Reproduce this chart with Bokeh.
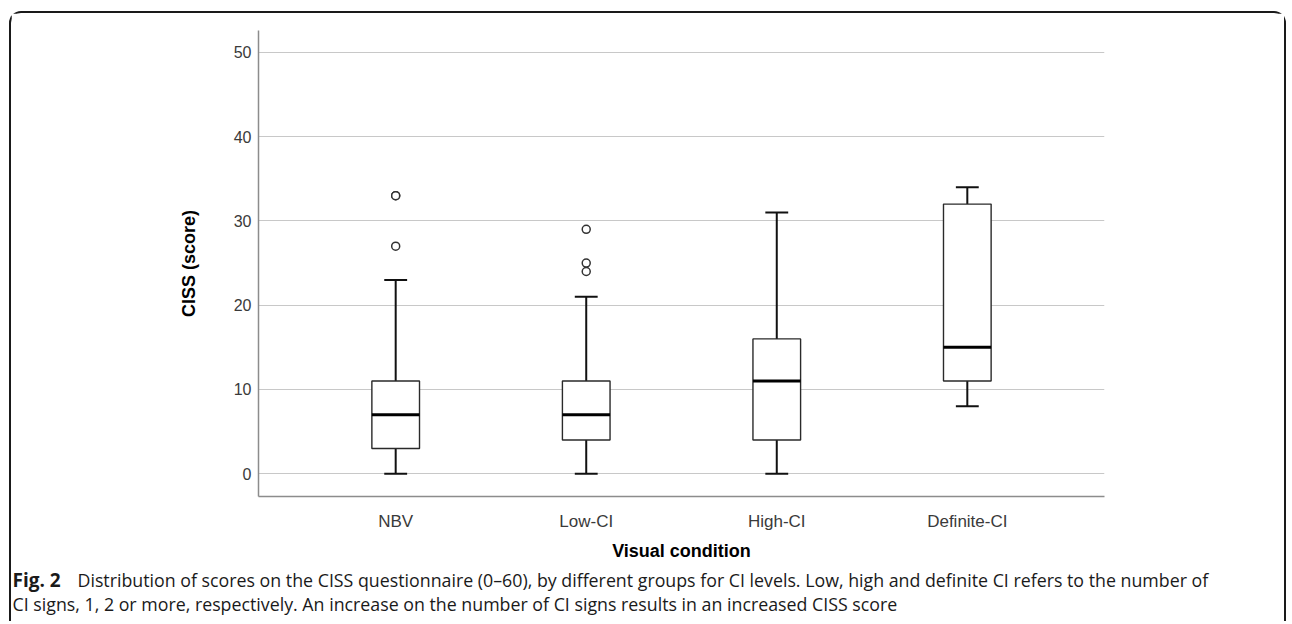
from bokeh.plotting import figure
from bokeh.models import FactorRange, Range1d, FixedTicker, ColumnDataSource, Label
from bokeh.transform import dodge
from bokeh.embed import file_html
from bokeh.resources import INLINE

categories = ["NBV", "Low-CI", "High-CI", "Definite-CI"]
whisker_low = [0, 0, 0, 8]
q1 = [3, 4, 4, 11]
median = [7, 7, 11, 15]
q3 = [11, 11, 16, 32]
whisker_high = [23, 21, 31, 34]
outlier_groups = ["NBV", "NBV", "NBV", "Low-CI", "Low-CI", "Low-CI"]
outlier_values = [27, 33, 33, 24, 25, 29]
y_ticks = [0, 10, 20, 30, 40, 50]

caption_bold = "Fig. 2"
caption_line1 = ("Distribution of scores on the CISS questionnaire (0\u201360), by different groups "
                 "for CI levels. Low, high and definite CI refers to the number of")
caption_line2 = ("CI signs, 1, 2 or more, respectively. An increase on the number of CI signs "
                 "results in an increased CISS score")

W = 1277
H_MAIN, H_CAP = 555, 55
BORDER = "2px solid #1a1a1a"

p = figure(width=W, height=H_MAIN, title=None,
           x_range=FactorRange(factors=categories, range_padding=0.11),
           y_range=Range1d(-2.7, 52.6),
           output_backend="svg", toolbar_location=None,
           min_border_left=247, min_border_right=184,
           min_border_top=17, min_border_bottom=72)
p.styles = {"margin-left": "9px", "margin-top": "11px",
            "border-top": BORDER, "border-left": BORDER, "border-right": BORDER,
            "border-radius": "12px 12px 0 0"}
p.outline_line_color = None
p.background_fill_color = "white"
p.border_fill_color = "white"

src = ColumnDataSource(dict(cat=categories, wl=whisker_low, q1=q1, med=median,
                            q3=q3, wh=whisker_high))
osrc = ColumnDataSource(dict(g=outlier_groups, v=outlier_values))

# whiskers
p.segment(x0="cat", x1="cat", y0="q3", y1="wh", source=src, line_width=2, line_color="#111111")
p.segment(x0="cat", x1="cat", y0="q1", y1="wl", source=src, line_width=2, line_color="#111111")
# caps
cl = dodge("cat", -0.06, range=p.x_range)
cr = dodge("cat", 0.06, range=p.x_range)
p.segment(x0=cl, x1=cr, y0="wh", y1="wh", source=src, line_width=2, line_color="#111111")
p.segment(x0=cl, x1=cr, y0="wl", y1="wl", source=src, line_width=2, line_color="#111111")
# boxes
p.vbar(x="cat", width=0.25, top="q3", bottom="q1", source=src,
       fill_color="white", line_color="#2a2a2a", line_width=1.4)
# medians
p.segment(x0=dodge("cat", -0.125, range=p.x_range), x1=dodge("cat", 0.125, range=p.x_range),
          y0="med", y1="med", source=src, line_width=3, line_color="#000000")
# outliers
p.scatter(x="g", y="v", source=osrc, marker="circle", size=8, fill_color="white",
          line_color="#333333", line_width=1.5)

# axes
for ax in (p.xaxis[0], p.yaxis[0]):
    ax.axis_line_color = "#8c8c8c"
    ax.axis_line_width = 1.5
    ax.major_tick_line_color = None
    ax.major_tick_out = 0
    ax.major_tick_in = 0
    ax.minor_tick_line_color = None
    ax.minor_tick_out = 0
    ax.major_label_text_font = "Liberation Sans"
    ax.major_label_text_color = "#3a3a3a"
    ax.axis_label_text_font = "Liberation Sans"
    ax.axis_label_text_font_style = "bold"
    ax.axis_label_text_font_size = "18px"
    ax.axis_label_text_color = "#000000"
p.yaxis.major_label_text_font_size = "16px"
p.xaxis.major_label_text_font_size = "17px"
p.yaxis.ticker = FixedTicker(ticks=y_ticks)
p.yaxis.axis_label = "CISS (score)"
p.yaxis.major_label_standoff = 7
p.yaxis.axis_label_standoff = 32
p.xaxis.axis_label = "Visual condition"
p.xaxis.major_label_standoff = 15
p.xaxis.axis_label_standoff = 7

p.xgrid.visible = False
p.ygrid.ticker = FixedTicker(ticks=y_ticks)
p.ygrid.grid_line_color = "#c8c8c8"
p.ygrid.grid_line_width = 1.2

# caption panel (separate root so its frame spans the full width)
cap = figure(width=W, height=H_CAP, title=None, x_range=Range1d(0, W), y_range=Range1d(0, H_CAP),
             output_backend="svg", toolbar_location=None, min_border=0)
cap.styles = {"margin-left": "9px", "border-left": BORDER, "border-right": BORDER}
cap.axis.visible = False
cap.grid.visible = False
cap.outline_line_color = None
cap.border_fill_color = "white"
cap.background_fill_color = "white"
cap.add_layout(Label(x=1, y=42, x_units="screen", y_units="screen", text=caption_bold,
                     text_font="Open Sans", text_font_style="bold", text_font_size="19px",
                     text_baseline="middle", text_color="#1a1a1a"))
cap.add_layout(Label(x=66, y=42, x_units="screen", y_units="screen", text=caption_line1,
                     text_font="Open Sans", text_font_size="17.8px",
                     text_baseline="middle", text_color="#1a1a1a"))
cap.add_layout(Label(x=1, y=18, x_units="screen", y_units="screen", text=caption_line2,
                     text_font="Open Sans", text_font_size="17.8px",
                     text_baseline="middle", text_color="#1a1a1a"))

open("out.html", "w").write(file_html([p, cap], INLINE))
